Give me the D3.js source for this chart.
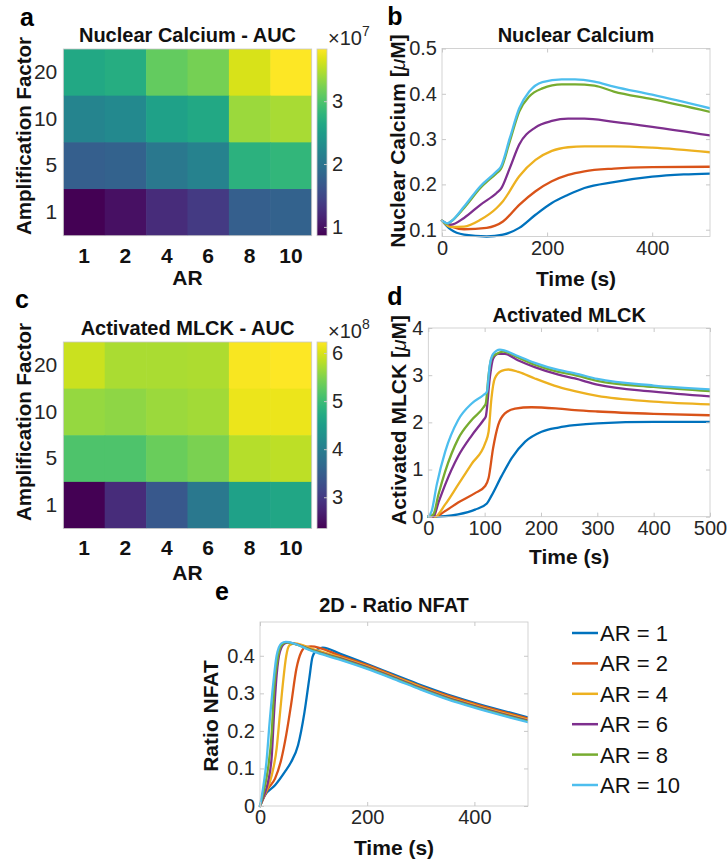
<!DOCTYPE html>
<html>
<head>
<meta charset="utf-8">
<script src="https://cdn.jsdelivr.net/npm/d3@7"></script>
<style>
  body { margin: 0; background: #fff; }
  svg { display: block; }
</style>
</head>
<body>
<script>
// ---------- data ----------
const arLevels = ["1", "2", "4", "6", "8", "10"];
const ampLevels = ["20", "10", "5", "1"];          // rows, top to bottom
const seriesNames = ["AR = 1", "AR = 2", "AR = 4", "AR = 6", "AR = 8", "AR = 10"];
const seriesColors = ["#0072BD", "#D95319", "#EDB120", "#7E2F8E", "#77AC30", "#4DBEEE"];

// Nuclear calcium AUC (x10^7), rows = amplification 20,10,5,1
const calciumAUC = [
  [2.64, 2.70, 3.12, 3.21, 3.65, 3.83],
  [2.20, 2.26, 2.55, 2.64, 3.38, 3.44],
  [1.75, 1.78, 2.05, 2.17, 2.76, 2.82],
  [0.86, 0.98, 1.22, 1.36, 1.75, 1.78]
];
const calciumTicks = [1, 2, 3];

// Activated MLCK AUC (x10^8)
const mlckAUC = [
  [5.92, 5.73, 5.73, 5.76, 6.19, 6.23],
  [5.61, 5.57, 5.65, 5.69, 6.11, 6.11],
  [5.14, 5.14, 5.34, 5.45, 5.80, 5.84],
  [2.35, 2.82, 3.40, 3.90, 4.56, 4.64]
];
const mlckTicks = [3, 4, 5, 6];

// Nuclear calcium [uM] time courses, [time s, value]
const calciumAR1 = [[0,.12],[17,.1],[42,.089],[85,.085],[116,.089],[147,.104],[178,.133],[209,.159],[240,.177],[271,.192],[327,.205],[400,.217],[460,.222],[510,.224]];
const calciumAR2 = [[0,.12],[17,.107],[42,.101],[85,.104],[116,.118],[147,.155],[178,.185],[209,.207],[240,.221],[271,.229],[327,.235],[400,.238],[510,.239]];
const calciumAR4 = [[0,.12],[17,.106],[42,.107],[73,.122],[104,.148],[116,.163],[147,.218],[178,.254],[209,.274],[240,.282],[271,.284],[327,.284],[400,.281],[510,.271]];
const calciumAR6 = [[0,.12],[17,.111],[42,.126],[73,.155],[104,.181],[112,.19],[129,.236],[147,.288],[178,.326],[209,.34],[240,.345],[271,.345],[327,.338],[400,.327],[510,.308]];
const calciumAR8 = [[0,.12],[10,.113],[17,.118],[42,.148],[73,.192],[104,.225],[112,.234],[129,.295],[147,.361],[166,.394],[191,.412],[228,.421],[253,.421],[290,.418],[327,.405],[400,.388],[510,.36]];
const calciumAR10 = [[0,.12],[10,.114],[17,.118],[42,.151],[73,.196],[104,.229],[112,.239],[129,.302],[147,.368],[166,.405],[191,.426],[228,.432],[253,.432],[290,.427],[327,.416],[400,.398],[510,.368]];

// Activated MLCK [uM] time courses
const mlckAR1 = [[0,0],[12,0],[30,.01],[53,.05],[83,.15],[104,.28],[112,.44],[130,.86],[148,1.24],[172,1.59],[201,1.8],[231,1.89],[260,1.94],[300,1.98],[400,2.01],[500,2.01]];
const mlckAR2 = [[0,0],[12,0],[30,.12],[53,.3],[83,.5],[101,.65],[107,.82],[115,1.45],[124,1.94],[136,2.19],[154,2.29],[183,2.32],[231,2.29],[260,2.26],[300,2.23],[400,2.18],[500,2.15]];
const mlckAR4 = [[0,0],[12,0],[30,.26],[53,.68],[77,1.12],[101,1.56],[107,1.8],[112,2.5],[118,2.93],[130,3.09],[142,3.12],[160,3.07],[189,2.93],[231,2.75],[260,2.66],[300,2.56],[400,2.44],[500,2.38]];
const mlckAR6 = [[0,0],[9,0],[18,.3],[30,.68],[53,1.28],[77,1.72],[98,2.05],[102,2.12],[109,2.93],[115,3.35],[124,3.45],[136,3.45],[160,3.31],[189,3.17],[231,3.01],[260,2.93],[300,2.8],[400,2.65],[500,2.55]];
const mlckAR8 = [[0,0],[9,.05],[18,.47],[30,.96],[53,1.65],[77,2.05],[98,2.32],[102,2.4],[107,3.0],[112,3.35],[121,3.45],[133,3.5],[160,3.37],[189,3.22],[231,3.07],[260,3.0],[300,2.88],[400,2.75],[500,2.66]];
const mlckAR10 = [[0,0],[6,.12],[15,.68],[30,1.38],[53,2.05],[77,2.4],[98,2.58],[104,2.65],[109,3.2],[115,3.45],[127,3.54],[136,3.52],[160,3.4],[189,3.26],[231,3.11],[260,3.04],[300,2.92],[400,2.78],[500,2.7]];

// 2D ratio NFAT time courses
const nfatAR1 = [[0,0],[9,.028],[28,.055],[46,.09],[58,.117],[71,.162],[83,.25],[92,.34],[98,.397],[108,.418],[117,.422],[150,.405],[200,.378],[250,.35],[300,.322],[350,.297],[400,.275],[450,.255],[500,.236]];
const nfatAR2 = [[0,0],[15,.046],[28,.073],[40,.126],[49,.19],[58,.27],[68,.366],[77,.41],[86,.424],[95,.425],[150,.4],[200,.375],[250,.347],[300,.319],[350,.294],[400,.272],[450,.252],[500,.233]];
const nfatAR4 = [[0,0],[10,.035],[22,.082],[31,.153],[37,.242],[43,.33],[49,.4],[55,.428],[65,.433],[100,.417],[150,.396],[200,.372],[250,.345],[300,.317],[350,.291],[400,.269],[450,.249],[500,.23]];
const nfatAR6 = [[0,0],[8,.03],[15,.064],[22,.135],[26,.242],[31,.348],[37,.41],[46,.433],[52,.435],[100,.414],[150,.393],[200,.369],[250,.342],[300,.314],[350,.288],[400,.266],[450,.246],[500,.227]];
const nfatAR8 = [[0,0],[8,.045],[15,.1],[22,.197],[26,.304],[33,.393],[40,.428],[48,.436],[100,.413],[150,.391],[200,.367],[250,.34],[300,.312],[350,.286],[400,.264],[450,.244],[500,.225]];
const nfatAR10 = [[0,0],[6,.05],[12,.117],[18,.224],[25,.33],[31,.4],[40,.433],[48,.437],[100,.411],[150,.389],[200,.365],[250,.338],[300,.31],[350,.284],[400,.262],[450,.242],[500,.223]];

const calciumSeries = [calciumAR1, calciumAR2, calciumAR4, calciumAR6, calciumAR8, calciumAR10];
const mlckSeries = [mlckAR1, mlckAR2, mlckAR4, mlckAR6, mlckAR8, mlckAR10];
const nfatSeries = [nfatAR1, nfatAR2, nfatAR4, nfatAR6, nfatAR8, nfatAR10];

// ---------- drawing ----------
const FONT = "'Liberation Sans', Arial, Helvetica, sans-serif";
const INK = "#262626";
const FRAME = "#c8c8c8";
const fmt = d3.format("~g");

const svg = d3.select("body").append("svg")
  .attr("width", 728).attr("height", 864)
  .style("font-family", FONT);
const defs = svg.append("defs");

function label(x, y, str, size, weight, opts = {}) {
  return svg.append("text")
    .attr("x", x).attr("y", y)
    .attr("font-size", size)
    .attr("font-weight", weight || "normal")
    .attr("fill", opts.fill || "#111")
    .attr("text-anchor", opts.anchor || "middle")
    .text(str);
}

function yLabel(x, y, parts, size) {
  const t = svg.append("text")
    .attr("transform", `translate(${x},${y}) rotate(-90)`)
    .attr("dy", "0.35em")
    .attr("text-anchor", "middle")
    .attr("font-size", size)
    .attr("font-weight", "bold")
    .attr("fill", "#111");
  parts.forEach(p => {
    t.append("tspan").text(p.text)
      .attr("font-style", p.italic ? "italic" : null)
      .attr("font-weight", p.italic ? "normal" : null);
  });
  return t;
}

function styleAxis(g, size, weight, fill) {
  g.select(".domain").remove();
  g.selectAll(".tick line").attr("stroke", FRAME);
  g.selectAll("text")
    .attr("font-size", size)
    .attr("font-family", FONT)
    .attr("font-weight", weight || "normal")
    .attr("fill", fill || INK);
}

function drawHeatmap(o) {
  const x = d3.scaleBand().domain(arLevels).range([o.left, o.right]);
  const y = d3.scaleBand().domain(ampLevels).range([o.top, o.bottom]);
  const color = d3.scaleSequential(d3.interpolateViridis).domain(o.clim);

  const cells = o.values.flatMap((row, i) =>
    row.map((v, j) => ({ amp: ampLevels[i], ar: arLevels[j], v })));

  const clipId = o.id + "-clip";
  defs.append("clipPath").attr("id", clipId).append("rect")
    .attr("x", o.left).attr("y", o.top)
    .attr("width", o.right - o.left).attr("height", o.bottom - o.top);

  svg.append("g").attr("clip-path", `url(#${clipId})`)
    .selectAll("rect").data(cells).join("rect")
    .attr("x", d => x(d.ar)).attr("y", d => y(d.amp))
    .attr("width", x.bandwidth() + 0.6).attr("height", y.bandwidth() + 0.6)
    .attr("fill", d => color(d.v));

  svg.append("rect")
    .attr("x", o.left).attr("y", o.top)
    .attr("width", o.right - o.left).attr("height", o.bottom - o.top)
    .attr("fill", "none").attr("stroke", FRAME).attr("stroke-width", 0.8);

  const gx = svg.append("g").attr("transform", `translate(0,${o.bottom})`)
    .call(d3.axisBottom(x).tickSize(0).tickPadding(12));
  styleAxis(gx, 21, "bold", "#111");

  const gy = svg.append("g").attr("transform", `translate(${o.left},0)`)
    .call(d3.axisLeft(y).tickSize(0).tickPadding(6));
  styleAxis(gy, 21, "normal", INK);

  // colour bar
  const gradId = o.id + "-grad";
  const grad = defs.append("linearGradient").attr("id", gradId)
    .attr("x1", 0).attr("y1", 1).attr("x2", 0).attr("y2", 0);
  d3.range(0, 1.0001, 0.05).forEach(s => {
    grad.append("stop").attr("offset", s).attr("stop-color", d3.interpolateViridis(s));
  });
  svg.append("rect")
    .attr("x", o.cbLeft).attr("y", o.top)
    .attr("width", o.cbWidth).attr("height", o.bottom - o.top)
    .attr("fill", `url(#${gradId})`)
    .attr("stroke", FRAME).attr("stroke-width", 0.8);

  const cb = d3.scaleLinear().domain(o.clim).range([o.bottom, o.top]);
  const gc = svg.append("g").attr("transform", `translate(${o.cbLeft + o.cbWidth},0)`)
    .call(d3.axisRight(cb).tickValues(o.cbTicks).tickFormat(fmt)
      .tickSizeInner(-3).tickSizeOuter(0).tickPadding(5));
  styleAxis(gc, 20, "normal", INK);

  // exponent
  const ex = svg.append("text")
    .attr("x", o.cbLeft + 11).attr("y", o.expY)
    .attr("font-size", 20).attr("fill", INK);
  ex.append("tspan").text("\u00d710");
  ex.append("tspan").text(o.exponent).attr("font-size", 14).attr("dy", -9);

  const cx = (o.left + o.right) / 2;
  label(cx, o.titleY, o.title, 20, "bold");
  label(cx, o.xLabelY, "AR", 21, "bold");
  yLabel(o.yLabelX, o.yLabelY, [{ text: "Amplification Factor" }], 20.5);
}

function drawLines(o) {
  const x = d3.scaleLinear().domain(o.xdom).range([o.left, o.right]);
  const y = d3.scaleLinear().domain(o.ydom).range([o.bottom, o.top]);

  const clipId = o.id + "-clip";
  defs.append("clipPath").attr("id", clipId).append("rect")
    .attr("x", o.left - 2).attr("y", o.top)
    .attr("width", o.right - o.left + 2).attr("height", o.bottom - o.top + 2);

  const line = d3.line()
    .x(d => x(d[0])).y(d => y(d[1]))
    .curve(d3.curveMonotoneX);

  svg.append("g").attr("clip-path", `url(#${clipId})`)
    .selectAll("path").data(o.series).join("path")
    .attr("d", line)
    .attr("fill", "none")
    .attr("stroke", (d, i) => seriesColors[i])
    .attr("stroke-width", 2.3)
    .attr("stroke-linejoin", "round")
    .attr("stroke-linecap", "round");

  svg.append("rect")
    .attr("x", o.left).attr("y", o.top)
    .attr("width", o.right - o.left).attr("height", o.bottom - o.top)
    .attr("fill", "none").attr("stroke", FRAME).attr("stroke-width", 0.8);

  const gx = svg.append("g").attr("transform", `translate(0,${o.bottom})`)
    .call(d3.axisBottom(x).tickValues(o.xticks).tickFormat(fmt)
      .tickSizeInner(-4).tickSizeOuter(0).tickPadding(4));
  styleAxis(gx, 20, "normal", INK);
  const gxt = svg.append("g").attr("transform", `translate(0,${o.top})`)
    .call(d3.axisTop(x).tickValues(o.xticks).tickFormat("").tickSizeInner(-4).tickSizeOuter(0));
  styleAxis(gxt, 20);

  const gy = svg.append("g").attr("transform", `translate(${o.left},0)`)
    .call(d3.axisLeft(y).tickValues(o.yticks).tickFormat(fmt)
      .tickSizeInner(-4).tickSizeOuter(0).tickPadding(5));
  styleAxis(gy, 20, "normal", INK);
  const gyr = svg.append("g").attr("transform", `translate(${o.right},0)`)
    .call(d3.axisRight(y).tickValues(o.yticks).tickFormat("").tickSizeInner(-4).tickSizeOuter(0));
  styleAxis(gyr, 20);

  const cx = (o.left + o.right) / 2;
  label(cx, o.titleY, o.title, 20, "bold");
  label(cx, o.xLabelY, "Time (s)", 21, "bold");
  yLabel(o.yLabelX, o.yLabelY, o.yLabel, 21);
}

// panel a
drawHeatmap({
  id: "pa", values: calciumAUC, clim: [0.86, 3.83], cbTicks: calciumTicks, exponent: "7",
  left: 63.3, right: 311.7, top: 49, bottom: 235.7, cbLeft: 317, cbWidth: 10,
  title: "Nuclear Calcium - AUC", titleY: 42, xLabelY: 285, yLabelX: 24, yLabelY: 136, expY: 45
});
// panel c
drawHeatmap({
  id: "pc", values: mlckAUC, clim: [2.35, 6.23], cbTicks: mlckTicks, exponent: "8",
  left: 63.3, right: 311.7, top: 342, bottom: 528.5, cbLeft: 317, cbWidth: 10,
  title: "Activated MLCK - AUC", titleY: 335, xLabelY: 580, yLabelX: 24, yLabelY: 422, expY: 338
});
// panel b
drawLines({
  id: "pb", series: calciumSeries, xdom: [0, 510], ydom: [0.085, 0.5],
  xticks: [0, 200, 400], yticks: [0.1, 0.2, 0.3, 0.4, 0.5],
  left: 442, right: 710, top: 48.5, bottom: 236.5,
  title: "Nuclear Calcium", titleY: 42, xLabelY: 286, yLabelX: 398, yLabelY: 141,
  yLabel: [{ text: "Nuclear Calcium [" }, { text: "\u03bc", italic: true }, { text: "M]" }]
});
// panel d
drawLines({
  id: "pd", series: mlckSeries, xdom: [0, 500], ydom: [0, 4],
  xticks: [0, 100, 200, 300, 400, 500], yticks: [0, 1, 2, 3, 4],
  left: 428.3, right: 710, top: 328, bottom: 516.7,
  title: "Activated MLCK", titleY: 322, xLabelY: 564, yLabelX: 399, yLabelY: 420,
  yLabel: [{ text: "Activated MLCK [" }, { text: "\u03bc", italic: true }, { text: "M]" }]
});
// panel e
drawLines({
  id: "pe", series: nfatSeries, xdom: [0, 500], ydom: [0, 0.49],
  xticks: [0, 200, 400], yticks: [0, 0.1, 0.2, 0.3, 0.4],
  left: 260, right: 528, top: 622, bottom: 806,
  title: "2D - Ratio NFAT", titleY: 612, xLabelY: 855, yLabelX: 211, yLabelY: 716,
  yLabel: [{ text: "Ratio NFAT" }]
});

// panel letters
[["a", 27, 26], ["b", 395, 25], ["c", 22, 308], ["d", 395, 305], ["e", 222, 600]]
  .forEach(([s, x, y]) => label(x, y, s, 25, "bold", { fill: "#000" }));

// legend
const legendY = d3.scalePoint().domain(seriesNames).range([633, 785]);
const lg = svg.append("g");
lg.selectAll("line").data(seriesNames).join("line")
  .attr("x1", 572).attr("x2", 598)
  .attr("y1", d => legendY(d)).attr("y2", d => legendY(d))
  .attr("stroke", (d, i) => seriesColors[i]).attr("stroke-width", 2.5);
lg.selectAll("text").data(seriesNames).join("text")
  .attr("x", 600).attr("y", d => legendY(d)).attr("dy", "0.36em")
  .attr("font-size", 22).attr("fill", "#111")
  .text(d => d);
</script>
</body>
</html>
